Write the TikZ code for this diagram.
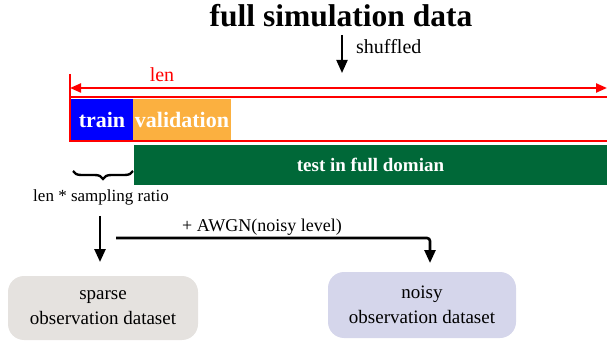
\documentclass[tikz,border=0pt]{standalone}
\usepackage{fontspec}
\setmainfont{Liberation Serif}
\usetikzlibrary{arrows.meta,decorations.pathreplacing}
\definecolor{trainblue}{RGB}{0,0,255}
\definecolor{valorange}{RGB}{251,176,64}
\definecolor{testgreen}{RGB}{0,104,56}
\definecolor{sparsegray}{RGB}{229,226,223}
\definecolor{noisyblue}{RGB}{213,214,235}
\tikzset{
  arr/.style={line width=2.6pt,-{Triangle[width=11pt,length=13pt]}},
  redline/.style={red,line width=2.2pt},
  seg/.style={rectangle,inner sep=0pt,text=white,font=\bfseries\fontsize{22}{26}\selectfont},
  dataset/.style={rectangle,rounded corners=16pt,inner sep=0pt,align=center,font=\fontsize{19}{25}\selectfont},
  lbl/.style={inner sep=0pt}
}
\begin{document}
\begin{tikzpicture}[x=1pt,y=-1pt]
\useasboundingbox (0,0) rectangle (607,347);
% title
\node[lbl,font=\bfseries\fontsize{31.5}{36}\selectfont] (title) at (341,16) {full simulation data};
\coordinate (sh1) at (342,35);
\coordinate (sh2) at (342,73);
\draw[arr,line width=2pt] (sh1) -- (sh2);
\node[lbl,anchor=west,font=\fontsize{20}{24}\selectfont] (shuf) at (356,47) {shuffled};
% len
\coordinate (lenL) at (70,88);
\coordinate (lenR) at (607,88);
\draw[redline,{Triangle[width=9pt,length=11pt]}-{Triangle[width=9pt,length=11pt]}] (lenL) -- (lenR);
\node[lbl,text=red,font=\fontsize{20}{24}\selectfont] (len) at (162,75) {len};
\coordinate (vt) at (70,74);
\coordinate (rtl) at (70,97);
\coordinate (rtr) at (607,97);
\coordinate (rbl) at (70,141);
\coordinate (rbr) at (607,141);
\draw[redline] (vt) -- (rbl);
\draw[redline] (rtr) -- (rtl) -- (rbl) -- (rbr);
% segments
\node[seg,fill=trainblue,minimum width=62pt,minimum height=41pt] (train) at (102,119.5) {train};
\node[seg,fill=valorange,minimum width=98pt,minimum height=41pt] (val) at (182,119.5) {validation};
\node[seg,fill=testgreen,minimum width=473pt,minimum height=40pt,font=\bfseries\fontsize{19}{23}\selectfont] (test) at (370.5,165) {test in full domian};
% brace
\coordinate (bl) at (73,171);
\coordinate (br) at (133,171);
\draw[decorate,decoration={brace,mirror,amplitude=8pt},line width=2.4pt] (bl) -- (br);
\node[lbl,font=\fontsize{17}{20}\selectfont] (ratio) at (101,197) {len * sampling ratio};
% arrows
\coordinate (a1) at (100,216);
\node[dataset,fill=sparsegray,minimum width=190pt,minimum height=64pt] (sparse) at (103,308) {sparse\\observation dataset};
\node[dataset,fill=noisyblue,minimum width=188pt,minimum height=66pt] (noisy) at (422,305) {noisy\\observation dataset};
\coordinate (a1e) at (100,262);
\draw[arr] (a1) -- (a1e);
\coordinate (n1) at (116,238);
\coordinate (n2) at (430,238);
\coordinate (n3) at (430,263);
\draw[arr,rounded corners=3pt] (n1) -- (n2) -- (n3);
\node[lbl,font=\fontsize{18}{22}\selectfont] (awgn) at (262,227) {+ AWGN(noisy level)};
\end{tikzpicture}
\end{document}
